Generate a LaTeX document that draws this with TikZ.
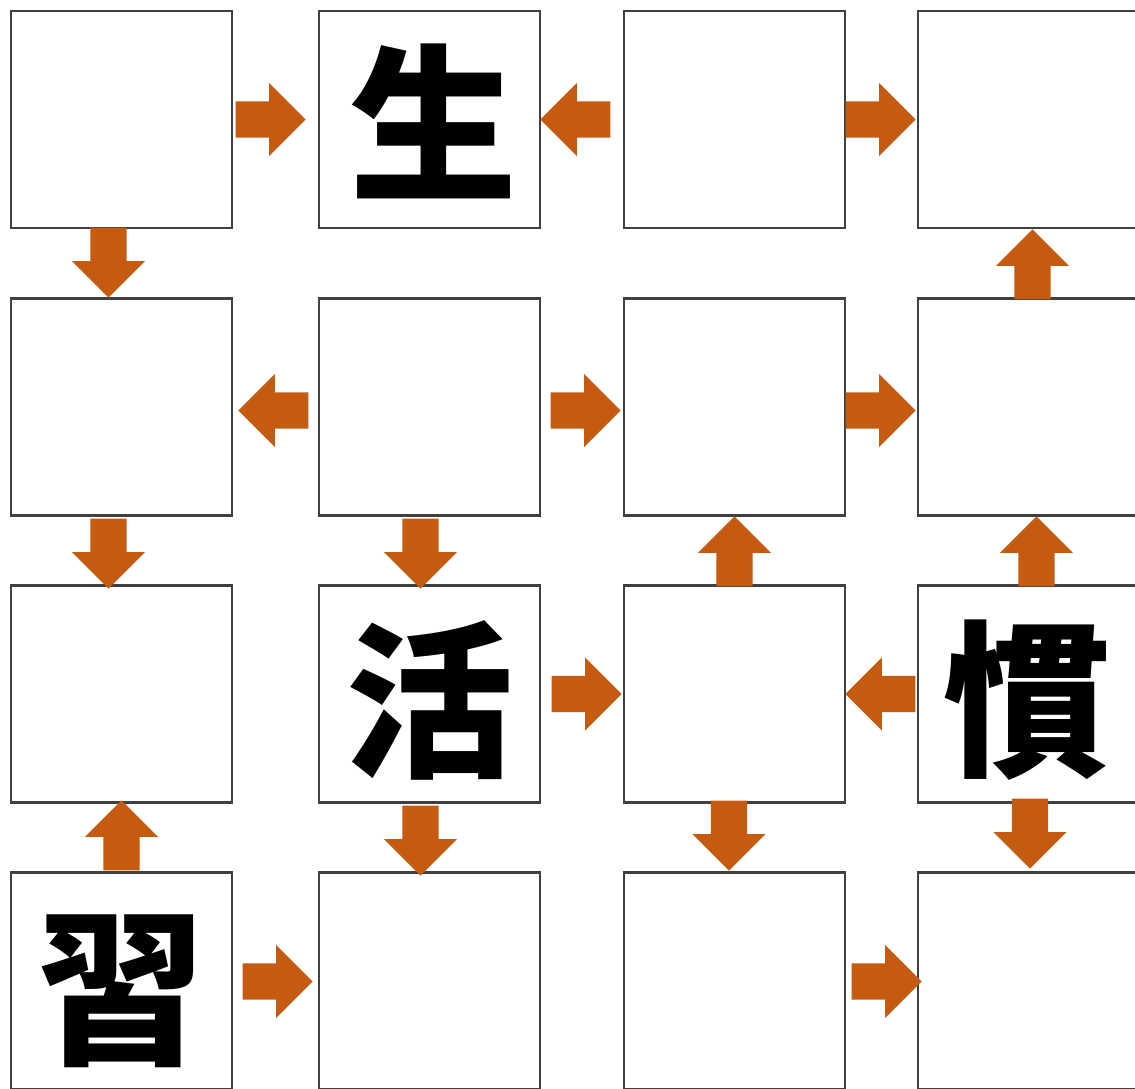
\documentclass[tikz,border=0pt]{standalone}
\usepackage{fontspec}
\newfontfamily\cjk{Noto Sans CJK JP}[UprightFont={* Black}]
\usetikzlibrary{shapes.arrows}
\definecolor{arrowc}{HTML}{C55A11}
\definecolor{boxc}{HTML}{404040}
\tikzset{
  cell/.style={draw=boxc, line width=2.8pt, fill=white, minimum width=221pt, minimum height=217pt, inner sep=0pt},
  glyph/.style={inner sep=0pt, font=\cjk\fontsize{168}{168}\selectfont},
  blockarrow/.style={single arrow, fill=arrowc, draw=none, inner xsep=0pt, inner ysep=18pt,
    minimum height=70pt, single arrow head extend=18.5pt, single arrow tip angle=90, anchor=tip},
}
\begin{document}
\begin{tikzpicture}[x=1pt,y=-1pt]
\useasboundingbox (0,0) rectangle (1135,1089);
\clip (0,0) rectangle (1135,1089);
\fill[white] (0,0) rectangle (1135,1089);
% boxes
\node[cell] (b11) at (121.5,119.5) {};
\node[cell] (b12) at (429.5,119.5) {};
\node[cell] (b13) at (734.5,119.5) {};
\node[cell] (b14) at (1028.5,119.5) {};
\node[cell] (b21) at (121.5,407) {};
\node[cell] (b22) at (429.5,407) {};
\node[cell] (b23) at (734.5,407) {};
\node[cell] (b24) at (1028.5,407) {};
\node[cell] (b31) at (121.5,694) {};
\node[cell] (b32) at (429.5,694) {};
\node[cell] (b33) at (734.5,694) {};
\node[cell] (b34) at (1028.5,694) {};
\node[cell] (b41) at (121.5,981) {};
\node[cell] (b42) at (429.5,981) {};
\node[cell] (b43) at (734.5,981) {};
\node[cell] (b44) at (1028.5,981) {};
% characters
\node[glyph, xshift=4pt, yshift=-2pt] (t12) at (b12.center) {生};
\node[glyph, xshift=0pt, yshift=-6pt] (t32) at (b32.center) {活};
\node[glyph, xshift=-2.5pt, yshift=-6.5pt] (t34) at (b34.center) {慣};
\node[glyph, xshift=0pt, yshift=-10pt] (t41) at (b41.center) {習};
% arrows
\node[blockarrow] (a1) at (306,119.5) {};
\node[blockarrow, rotate=180] (a2) at (540,119.5) {};
\node[blockarrow] (a3) at (916,119.5) {};
\node[blockarrow, rotate=-90] (a4) at (108.5,298) {};
\node[blockarrow, rotate=90] (a5) at (1032.5,229) {};
\node[blockarrow, rotate=180] (a6) at (238,410.5) {};
\node[blockarrow] (a7) at (621,410.5) {};
\node[blockarrow] (a8) at (916,410.5) {};
\node[blockarrow, rotate=-90] (a9) at (108.5,589) {};
\node[blockarrow, rotate=-90] (a10) at (420.5,589) {};
\node[blockarrow, rotate=90] (a11) at (734.5,516) {};
\node[blockarrow, rotate=90] (a12) at (1036.5,516) {};
\node[blockarrow] (a13) at (622,694) {};
\node[blockarrow, rotate=180] (a14) at (845,694) {};
\node[blockarrow, rotate=90] (a15) at (121.5,800) {};
\node[blockarrow, rotate=-90] (a16) at (420.5,876) {};
\node[blockarrow, rotate=-90] (a17) at (729,871) {};
\node[blockarrow, rotate=-90] (a18) at (1030,869) {};
\node[blockarrow] (a19) at (313,981.5) {};
\node[blockarrow] (a20) at (922,981.5) {};
\end{tikzpicture}
\end{document}
